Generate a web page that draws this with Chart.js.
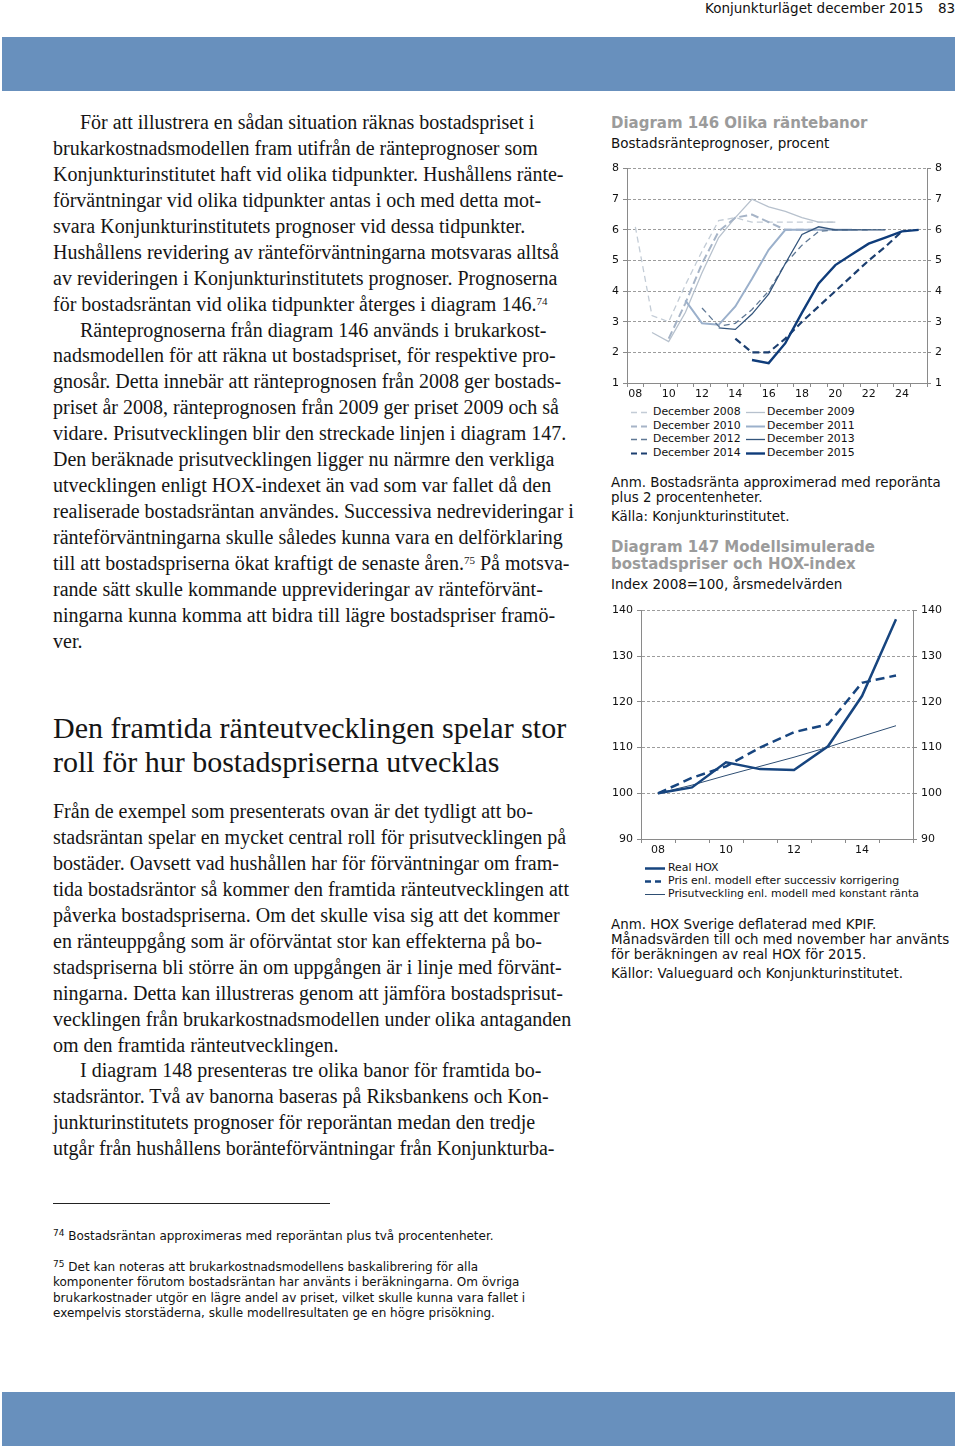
<!DOCTYPE html>
<html lang="sv">
<head>
<meta charset="utf-8">
<script src="https://cdn.jsdelivr.net/npm/chart.js@4.4.1/dist/chart.umd.min.js"></script>
<style>
  html,body{margin:0;padding:0;background:#fff;}
  body{width:960px;height:1450px;position:relative;overflow:hidden;}
  .band{position:absolute;left:2px;width:953px;height:54px;background:#6890bd;}
  .s{position:absolute;white-space:nowrap;font-family:"Liberation Serif",serif;font-size:20px;line-height:22px;color:#151515;}
  .h{position:absolute;white-space:nowrap;font-family:"Liberation Serif",serif;font-size:30px;line-height:34px;color:#151515;}
  .d{position:absolute;white-space:nowrap;font-family:"DejaVu Sans",sans-serif;color:#111;}
  .t{font-size:15px;font-weight:bold;color:#9b9b9b;line-height:18px;}
  .st{font-size:13.5px;line-height:16px;}
  .an{font-size:13.4px;line-height:16px;}
  .fn{font-size:12px;line-height:16px;}
  sup{font-size:11px;line-height:0;vertical-align:6px;}
  .fsup{font-size:9px;vertical-align:4px;}
  canvas{position:absolute;}
  .lg{position:absolute;white-space:nowrap;font-family:"DejaVu Sans",sans-serif;font-size:10.9px;line-height:13px;color:#111;}
  .lg svg{position:absolute;top:0;}
</style>
</head>
<body>
<div class="d" style="left:705px;top:0px;font-size:13.5px;line-height:16px;">Konjunkturläget december 2015</div>
<div class="d" style="left:938px;top:0px;font-size:13.5px;line-height:16px;">83</div>
<div class="band" style="top:37px;"></div>
<div class="band" style="top:1392px;"></div>

<!-- left column, paragraph 1 -->
<div class="s" style="left:80px;top:111px;">För att illustrera en sådan situation räknas bostadspriset i</div>
<div class="s" style="left:53px;top:137px;">brukarkostnadsmodellen fram utifrån de ränteprognoser som</div>
<div class="s" style="left:53px;top:163px;">Konjunkturinstitutet haft vid olika tidpunkter. Hushållens ränte-</div>
<div class="s" style="left:53px;top:189px;">förväntningar vid olika tidpunkter antas i och med detta mot-</div>
<div class="s" style="left:53px;top:215px;">svara Konjunkturinstitutets prognoser vid dessa tidpunkter.</div>
<div class="s" style="left:53px;top:241px;">Hushållens revidering av ränteförväntningarna motsvaras alltså</div>
<div class="s" style="left:53px;top:267px;">av revideringen i Konjunkturinstitutets prognoser. Prognoserna</div>
<div class="s" style="left:53px;top:293px;">för bostadsräntan vid olika tidpunkter återges i diagram 146.<sup>74</sup></div>
<div class="s" style="left:80px;top:319px;">Ränteprognoserna från diagram 146 används i brukarkost-</div>
<div class="s" style="left:53px;top:344px;">nadsmodellen för att räkna ut bostadspriset, för respektive pro-</div>
<div class="s" style="left:53px;top:370px;">gnosår. Detta innebär att ränteprognosen från 2008 ger bostads-</div>
<div class="s" style="left:53px;top:396px;">priset år 2008, ränteprognosen från 2009 ger priset 2009 och så</div>
<div class="s" style="left:53px;top:422px;">vidare. Prisutvecklingen blir den streckade linjen i diagram 147.</div>
<div class="s" style="left:53px;top:448px;">Den beräknade prisutvecklingen ligger nu närmre den verkliga</div>
<div class="s" style="left:53px;top:474px;">utvecklingen enligt HOX-indexet än vad som var fallet då den</div>
<div class="s" style="left:53px;top:500px;">realiserade bostadsräntan användes. Successiva nedrevideringar i</div>
<div class="s" style="left:53px;top:526px;">ränteförväntningarna skulle således kunna vara en delförklaring</div>
<div class="s" style="left:53px;top:552px;">till att bostadspriserna ökat kraftigt de senaste åren.<sup>75</sup> På motsva-</div>
<div class="s" style="left:53px;top:578px;">rande sätt skulle kommande upprevideringar av ränteförvänt-</div>
<div class="s" style="left:53px;top:604px;">ningarna kunna komma att bidra till lägre bostadspriser framö-</div>
<div class="s" style="left:53px;top:630px;">ver.</div>

<div class="h" style="left:53px;top:711px;">Den framtida ränteutvecklingen spelar stor</div>
<div class="h" style="left:53px;top:745px;">roll för hur bostadspriserna utvecklas</div>

<div class="s" style="left:53px;top:800px;">Från de exempel som presenterats ovan är det tydligt att bo-</div>
<div class="s" style="left:53px;top:826px;">stadsräntan spelar en mycket central roll för prisutvecklingen på</div>
<div class="s" style="left:53px;top:852px;">bostäder. Oavsett vad hushållen har för förväntningar om fram-</div>
<div class="s" style="left:53px;top:878px;">tida bostadsräntor så kommer den framtida ränteutvecklingen att</div>
<div class="s" style="left:53px;top:904px;">påverka bostadspriserna. Om det skulle visa sig att det kommer</div>
<div class="s" style="left:53px;top:930px;">en ränteuppgång som är oförväntat stor kan effekterna på bo-</div>
<div class="s" style="left:53px;top:956px;">stadspriserna bli större än om uppgången är i linje med förvänt-</div>
<div class="s" style="left:53px;top:982px;">ningarna. Detta kan illustreras genom att jämföra bostadsprisut-</div>
<div class="s" style="left:53px;top:1008px;">vecklingen från brukarkostnadsmodellen under olika antaganden</div>
<div class="s" style="left:53px;top:1034px;">om den framtida ränteutvecklingen.</div>
<div class="s" style="left:80px;top:1059px;">I diagram 148 presenteras tre olika banor för framtida bo-</div>
<div class="s" style="left:53px;top:1085px;">stadsräntor. Två av banorna baseras på Riksbankens och Kon-</div>
<div class="s" style="left:53px;top:1111px;">junkturinstitutets prognoser för reporäntan medan den tredje</div>
<div class="s" style="left:53px;top:1137px;">utgår från hushållens boränteförväntningar från Konjunkturba-</div>

<div style="position:absolute;left:53px;top:1203px;width:277px;height:1px;background:#222;"></div>
<div class="d fn" style="left:53px;top:1225px;"><span class="fsup">74</span> Bostadsräntan approximeras med reporäntan plus två procentenheter.</div>
<div class="d fn" style="left:53px;top:1256px;"><span class="fsup">75</span> Det kan noteras att brukarkostnadsmodellens baskalibrering för alla</div>
<div class="d fn" style="left:53px;top:1274px;">komponenter förutom bostadsräntan har använts i beräkningarna. Om övriga</div>
<div class="d fn" style="left:53px;top:1290px;">brukarkostnader utgör en lägre andel av priset, vilket skulle kunna vara fallet i</div>
<div class="d fn" style="left:53px;top:1305px;">exempelvis storstäderna, skulle modellresultaten ge en högre prisökning.</div>

<!-- right column -->
<div class="d t" style="left:611px;top:114px;">Diagram 146 Olika räntebanor</div>
<div class="d st" style="left:611px;top:135px;">Bostadsränteprognoser, procent</div>
<canvas id="c146" width="350" height="244" style="left:605px;top:158px;"></canvas>
<div id="lg146"></div>
<div class="d an" style="left:611px;top:475px;">Anm. Bostadsränta approximerad med reporänta</div>
<div class="d an" style="left:611px;top:490px;">plus 2 procentenheter.</div>
<div class="d an" style="left:611px;top:509px;">Källa: Konjunkturinstitutet.</div>

<div class="d t" style="left:611px;top:538px;">Diagram 147 Modellsimulerade</div>
<div class="d t" style="left:611px;top:555px;">bostadspriser och HOX-index</div>
<div class="d st" style="left:611px;top:576px;">Index 2008=100, årsmedelvärden</div>
<canvas id="c147" width="350" height="258" style="left:605px;top:600px;"></canvas>
<div id="lg147"></div>
<div class="d an" style="left:611px;top:917px;">Anm. HOX Sverige deflaterad med KPIF.</div>
<div class="d an" style="left:611px;top:932px;">Månadsvärden till och med november har använts</div>
<div class="d an" style="left:611px;top:947px;">för beräkningen av real HOX för 2015.</div>
<div class="d an" style="left:611px;top:966px;">Källor: Valueguard och Konjunkturinstitutet.</div>

<script>
// ---------- Diagram 146 data ----------
const years146 = ['08','09','10','11','12','13','14','15','16','17','18','19','20','21','22','23','24','25'];
const ticks146 = ['08','10','12','14','16','18','20','22','24'];
const yTicks146 = [1,2,3,4,5,6,7,8];
const dec2008 = [6.1, 3.2, 3.0, 4.2, 5.3, 6.3, 6.4, 6.25, 6.25, 6.25, 6.25, 6.25, 6.25];   // from 2008
const dec2009 = [2.65, 2.35, 3.3, 4.6, 5.75, 6.4, 7.0, 6.75, 6.6, 6.4, 6.25, 6.25];        // from 2009
const dec2010 = [2.45, 3.6, 4.9, 5.95, 6.4, 6.5, 6.25, 6.0, 6.0, 6.0, 6.0];                 // from 2010
const dec2011 = [3.7, 2.95, 2.9, 3.5, 4.4, 5.35, 6.0, 6.0, 6.0, 6.0, 6.0];                  // from 2011
const dec2012 = [3.45, 2.85, 2.95, 3.4, 4.0, 4.9, 5.5, 5.95, 6.0, 6.0, 6.0];                // from 2012
const dec2013 = [2.8, 2.75, 3.25, 3.9, 4.9, 5.85, 6.1, 6.0, 6.0, 6.0, 6.0];                 // from 2013
const dec2014 = [2.45, 2.0, 2.0, 2.45, 3.0, 3.5, 4.0, 4.5, 5.0, 5.45, 5.95];                // from 2014
const dec2015 = [1.75, 1.65, 2.3, 3.3, 4.25, 4.85, 5.2, 5.55, 5.75, 5.95, 6.0];             // from 2015
const startYears146 = [2008, 2009, 2010, 2011, 2012, 2013, 2014, 2015];
const names146 = ['December 2008','December 2009','December 2010','December 2011','December 2012','December 2013','December 2014','December 2015'];

// ---------- Diagram 147 data ----------
const years147 = ['08','09','10','11','12','13','14','15'];
const yTicks147 = [90,100,110,120,130,140];
const realHox = [100, 101.3, 106.8, 105.3, 105.1, 110.3, 121.3, 138.1];
const prisModell = [100, 103.4, 105.9, 110.0, 113.4, 115.1, 124.2, 125.8];
const konstantRanta = [100, 101.8, 103.9, 105.9, 107.9, 110.1, 112.5, 114.8];
const names147 = ['Real HOX','Pris enl. modell efter successiv korrigering','Prisutveckling enl. modell med konstant ränta'];

// ---------- styles ----------
const styles146 = [
  {color:'#c3ccd6', width:1.3, dash:[6,4]},
  {color:'#b7c1cd', width:1.3, dash:[]},
  {color:'#a6b4c7', width:2.0, dash:[8,4]},
  {color:'#9bb0cb', width:2.0, dash:[]},
  {color:'#5f7895', width:1.3, dash:[6,4]},
  {color:'#34557c', width:1.3, dash:[]},
  {color:'#1c3f70', width:2.2, dash:[7,4]},
  {color:'#0f3c7a', width:2.4, dash:[]}
];
const styles147 = [
  {color:'#17457f', width:2.5, dash:[]},
  {color:'#17457f', width:2.5, dash:[9,5]},
  {color:'#2e4e73', width:1.0, dash:[]}
];

const tickFont = {family:'DejaVu Sans', size:11};
const gridGray = '#9c9c9c';
const axisGray = '#8a8a8a';

function place(start, base, arr){
  const out = new Array(years146.length).fill(null);
  arr.forEach((v,i)=>{ out[start-base+i] = v; });
  return out;
}
const series146 = [dec2008, dec2009, dec2010, dec2011, dec2012, dec2013, dec2014, dec2015];
const ds146 = series146.map((arr,k)=>({
  label: names146[k],
  data: place(startYears146[k], 2008, arr),
  borderColor: styles146[k].color,
  borderWidth: styles146[k].width,
  borderDash: styles146[k].dash,
  pointRadius: 0, tension: 0, fill:false, spanGaps:false,
  order: series146.length - k
}));

function yAxis(pos, min, max, step, width, showGrid){
  return {
    position: pos, min: min, max: max,
    ticks: {stepSize: step, padding: 4, color:'#111', font: tickFont},
    grid: {drawOnChartArea: showGrid, color: gridGray, tickColor: axisGray, tickLength: 4, lineWidth:1},
    border: {color: axisGray, width: 1, dash: showGrid ? [3,2] : []},
    afterFit: s => { s.width = width; }
  };
}
function xAxis(labels, shown, height, pad){
  return {
    type:'category', offset:true,
    grid: {offset:true, drawOnChartArea:false, tickLength:4, color: axisGray},
    border: {color: axisGray, width:1},
    ticks: {autoSkip:false, maxRotation:0, minRotation:0, padding: pad, color:'#111', font: tickFont,
      callback: (v,i) => shown.includes(labels[i]) ? labels[i] : ''},
    afterFit: s => { s.height = height; }
  };
}

new Chart(document.getElementById('c146'), {
  type:'line',
  data:{labels: years146, datasets: ds146},
  options:{
    responsive:false, animation:false, devicePixelRatio:1,
    layout:{padding:{top:7, left:0, right:0, bottom:0}},
    plugins:{legend:{display:false}, tooltip:{enabled:false}},
    scales:{
      x: xAxis(years146, ticks146, 19, 1),
      y: yAxis('left', 1, 8, 1, 22, true),
      y2: yAxis('right', 1, 8, 1, 28, false)
    }
  }
});

const series147 = [realHox, prisModell, konstantRanta];
new Chart(document.getElementById('c147'), {
  type:'line',
  data:{labels: years147, datasets: series147.map((arr,k)=>({
    label: names147[k], data: arr,
    borderColor: styles147[k].color, borderWidth: styles147[k].width, borderDash: styles147[k].dash,
    pointRadius:0, tension:0, fill:false
  }))},
  options:{
    responsive:false, animation:false, devicePixelRatio:1,
    layout:{padding:{top:8, left:0, right:0, bottom:0}},
    plugins:{legend:{display:false}, tooltip:{enabled:false}},
    scales:{
      x: xAxis(years147, ['08','10','12','14'], 19, 1),
      y: yAxis('left', 90, 140, 10, 36, true),
      y2: yAxis('right', 90, 140, 10, 42, false)
    }
  }
});

// ---------- HTML legends ----------
function legendItem(parent, x, yc, sw, textX, st, name){
  const d = document.createElement('div');
  d.className = 'lg';
  d.style.left = x + 'px';
  d.style.top = (yc - 7) + 'px';
  d.style.width = (textX - x + 300) + 'px';
  d.style.height = '14px';
  const svgNS = 'http://www.w3.org/2000/svg';
  const svg = document.createElementNS(svgNS,'svg');
  svg.setAttribute('width', sw); svg.setAttribute('height', 14);
  const ln = document.createElementNS(svgNS,'line');
  ln.setAttribute('x1',0); ln.setAttribute('x2',sw); ln.setAttribute('y1',7.5); ln.setAttribute('y2',7.5);
  ln.setAttribute('stroke', st.color); ln.setAttribute('stroke-width', st.width);
  if (st.dash.length) ln.setAttribute('stroke-dasharray', '6,4');
  svg.appendChild(ln);
  d.appendChild(svg);
  const sp = document.createElement('span');
  sp.style.position='absolute'; sp.style.left=(textX - x)+'px'; sp.style.top='0px';
  sp.textContent = name;
  d.appendChild(sp);
  parent.appendChild(d);
}
const lg146 = document.getElementById('lg146');
const rows146 = [412, 425.5, 439, 452.5];
for (let k=0;k<names146.length;k++){
  const col = k % 2, row = Math.floor(k/2);
  if (col===0) legendItem(lg146, 631, rows146[row], 20, 653, styles146[k], names146[k]);
  else legendItem(lg146, 746, rows146[row], 19, 767, styles146[k], names146[k]);
}
const lg147 = document.getElementById('lg147');
const rows147 = [867.5, 881, 894];
for (let k=0;k<names147.length;k++){
  legendItem(lg147, 645, rows147[k], 20, 668, styles147[k], names147[k]);
}
</script>
</body>
</html>
